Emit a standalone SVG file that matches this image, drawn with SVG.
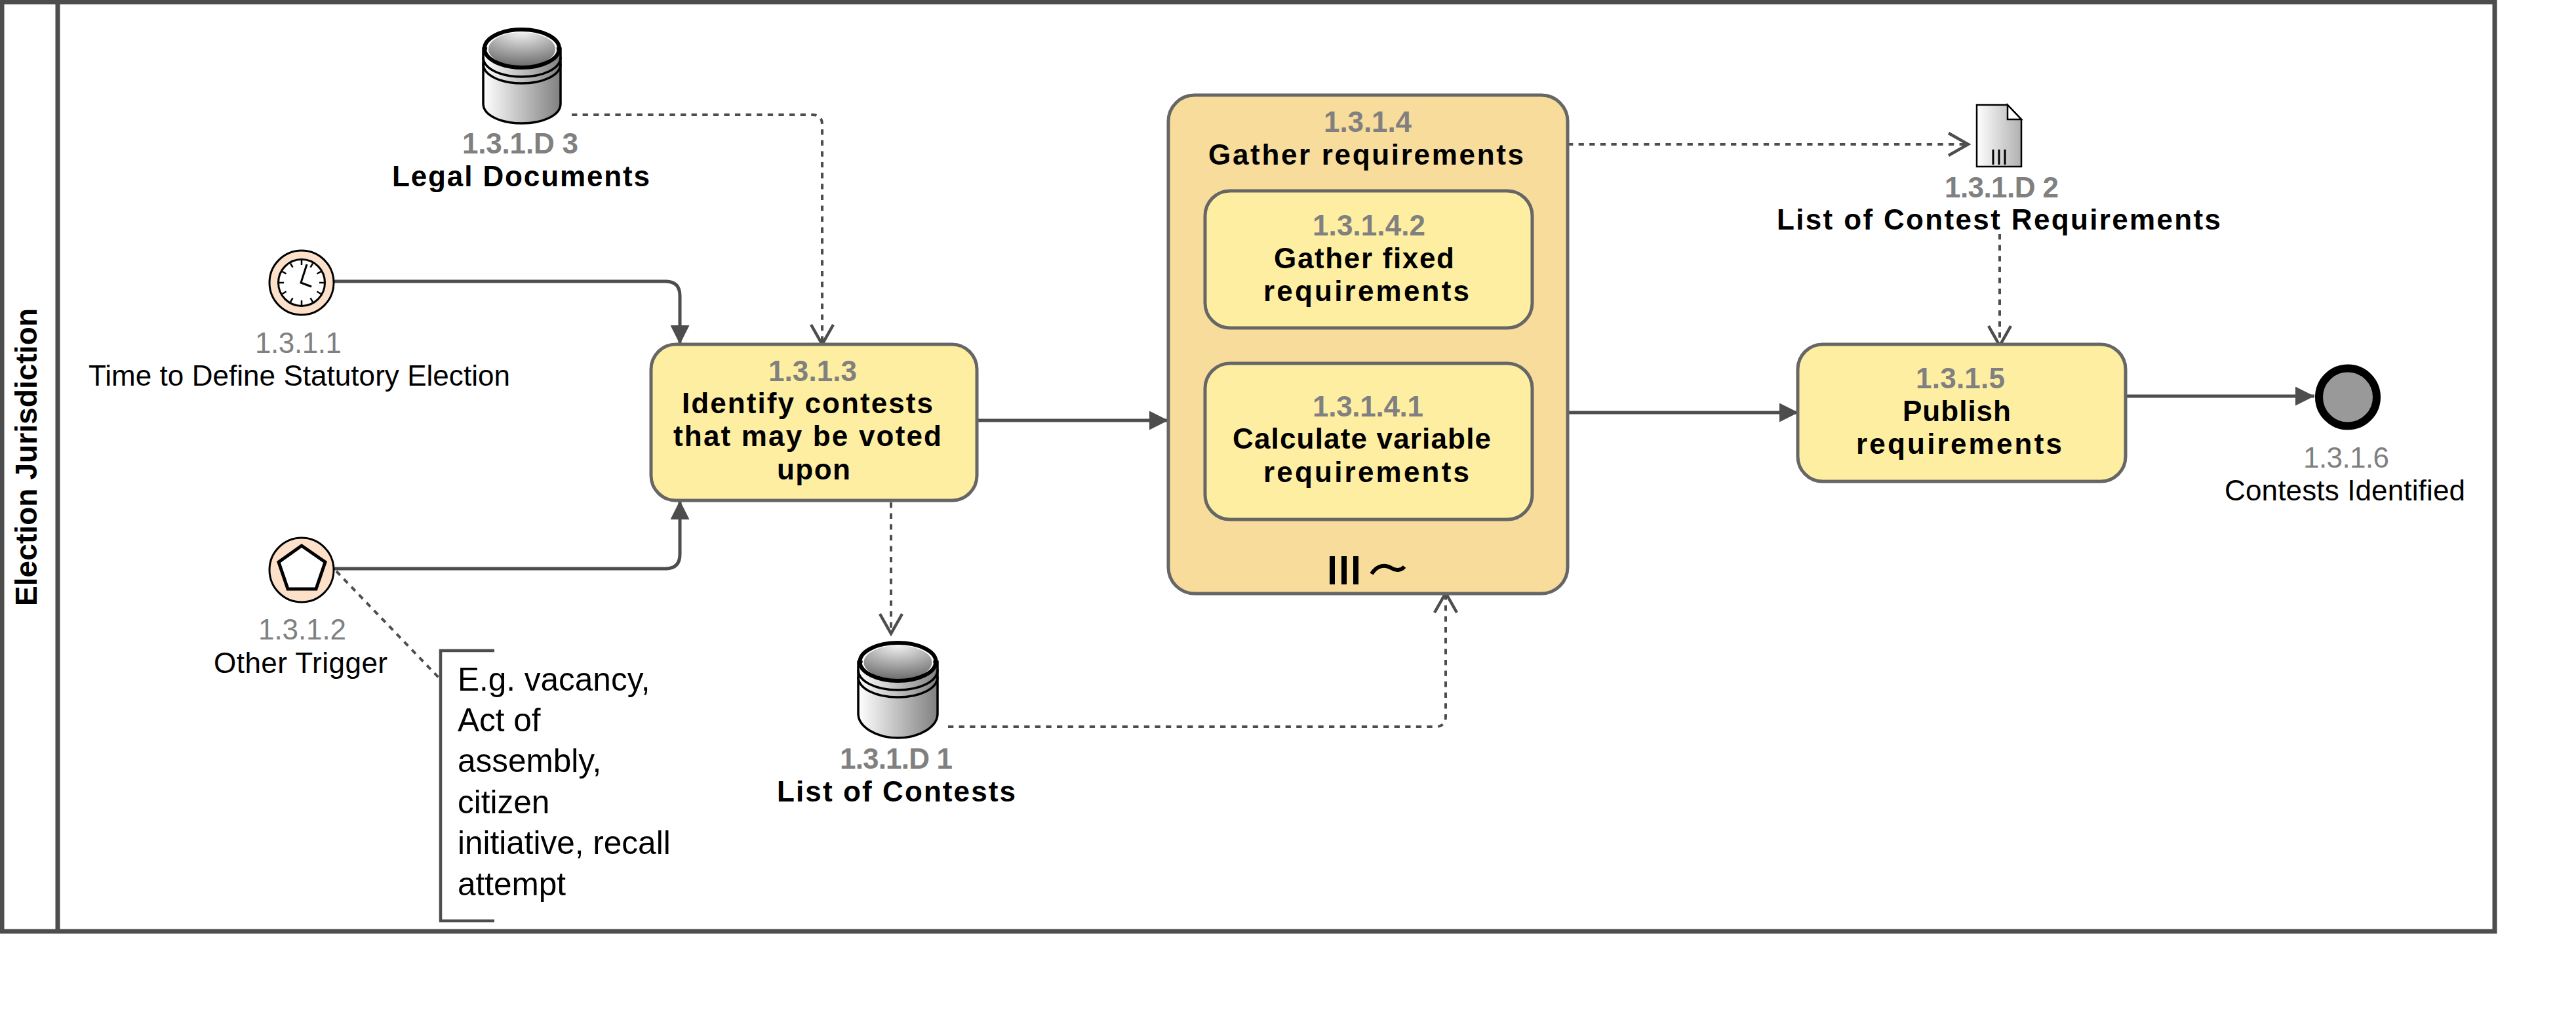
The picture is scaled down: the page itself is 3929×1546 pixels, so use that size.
<svg xmlns="http://www.w3.org/2000/svg" width="3929" height="1546" viewBox="0 0 3929 1546">
<style>
text{font-family:"Liberation Sans",Arial,sans-serif;font-size:44px;fill:#000}
.b{font-weight:700}
.n{fill:#808080}
.nb{fill:#808080;font-weight:700}
.note{font-size:49.5px}
.task{fill:#FEEEA2;stroke:#666;stroke-width:5}
.ev{fill:#FCE0C9;stroke:#000;stroke-width:3}
.flow{fill:none;stroke:#4d4d4d;stroke-width:5;marker-end:url(#solid)}
.assoc{fill:none;stroke:#4d4d4d;stroke-width:4;stroke-dasharray:8.3 8.3;marker-end:url(#open)}
.side{fill:url(#cyl);stroke:#000;stroke-width:3.5}
.band{fill:none;stroke:#000;stroke-width:3.5}
.lid{fill:url(#lid);stroke:#fff;stroke-width:2}
.rim{fill:none;stroke:#000;stroke-width:6}
</style>
<defs>
<linearGradient id="cyl" x1="0" x2="1" y1="0" y2="0"><stop offset="0" stop-color="#fff"/><stop offset="1" stop-color="#808080"/></linearGradient>
<linearGradient id="doc" x1="0" x2="1" y1="0" y2="0"><stop offset="0" stop-color="#fff"/><stop offset="1" stop-color="#b0b0b0"/></linearGradient>
<radialGradient id="lid" cx="0.5" cy="0" r="1"><stop offset="0" stop-color="#f4f4f4"/><stop offset="1" stop-color="#6a6a6a"/></radialGradient>
<marker id="solid" markerUnits="userSpaceOnUse" markerWidth="29" markerHeight="29" refX="29" refY="14.5" orient="auto"><path d="M0,0L29,14.5L0,29Z" fill="#4d4d4d"/></marker>
<marker id="open" markerUnits="userSpaceOnUse" markerWidth="36" markerHeight="38" refX="32" refY="19" orient="auto"><path d="M2,2L32,19L2,36" fill="none" stroke="#4d4d4d" stroke-width="4.5"/></marker>
</defs>
<g id="pool">
<rect x="3" y="3" width="3802" height="1417" fill="#fff" stroke="#4d4d4d" stroke-width="7"/>
<line x1="88" y1="3" x2="88" y2="1420" stroke="#4d4d4d" stroke-width="7"/>
<text class="b" transform="translate(56,924) rotate(-90)" style="font-size:46px" textLength="454">Election Jurisdiction</text>
</g>
<g id="connectors">
<path class="flow" d="M510,429H1015Q1037,429 1037,451V525"/>
<path class="flow" d="M510,867H1015Q1037,867 1037,845V763"/>
<path class="flow" d="M1490,641H1782"/>
<path class="flow" d="M2391,629H2743"/>
<path class="flow" d="M3242,604H3530"/>
<path class="assoc" d="M872,175H1239Q1254,175 1254,190V525"/>
<path class="assoc" d="M1359,766V966"/>
<path class="assoc" d="M1446,1108H2189Q2205,1108 2205,1092V904"/>
<path class="assoc" d="M2391,220H3002"/>
<path class="assoc" d="M3050,357V527"/>
<path d="M513,871L669,1033" fill="none" stroke="#4d4d4d" stroke-width="4" stroke-dasharray="8.3 8.3"/>
</g>
<g id="data-legal">
<path class="side" d="M737,74V158C737,176 764,188 796,188C828,188 855,176 855,158V74Z"/>
<path class="band" d="M737,87C737,105 764,117 796,117C828,117 855,105 855,87M737,97C737,115 764,127 796,127C828,127 855,115 855,97"/>
<ellipse class="lid" cx="796" cy="75" rx="52" ry="27"/>
<ellipse class="rim" cx="796" cy="74" rx="57" ry="29"/>
<text class="nb" x="705" y="234" textLength="177">1.3.1.D 3</text>
<text class="b" x="598" y="284" textLength="393">Legal Documents</text>
</g>
<g id="start-timer">
<circle class="ev" cx="460" cy="431" r="49"/>
<circle cx="460" cy="431" r="35.5" fill="#fff" stroke="#000" stroke-width="3"/>
<path d="M460,397V404M477,401.6L473.5,407.6M489.4,414L483.4,417.5M494,431H487M489.4,448L483.4,444.5M477,460.4L473.5,454.4M460,465V458M443,460.4L446.5,454.4M430.6,448L436.6,444.5M426,431H433M430.6,414L436.6,417.5M443,401.6L446.5,407.6" stroke="#000" stroke-width="2.5"/>
<path d="M468,403L459,431L475,437" fill="none" stroke="#000" stroke-width="3"/>
<text class="n" x="389" y="538" textLength="132">1.3.1.1</text>
<text x="135" y="588" textLength="643">Time to Define Statutory Election</text>
</g>
<g id="start-other">
<circle class="ev" cx="460" cy="869" r="49"/>
<path d="M460,832L496,857L482,898H439L425,857Z" fill="#fff" stroke="#000" stroke-width="5"/>
<text class="n" x="394" y="975" textLength="134">1.3.1.2</text>
<text x="326" y="1026" textLength="265">Other Trigger</text>
</g>
<g id="annotation">
<path d="M754,992H672V1404H754" fill="none" stroke="#4d4d4d" stroke-width="4.5"/>
<text class="note" x="698" y="1053">E.g. vacancy,</text>
<text class="note" x="698" y="1115">Act of</text>
<text class="note" x="698" y="1177">assembly,</text>
<text class="note" x="698" y="1240">citizen</text>
<text class="note" x="698" y="1302">initiative, recall</text>
<text class="note" x="698" y="1365">attempt</text>
</g>
<g id="task-1313">
<rect class="task" x="993" y="525" width="497" height="238" rx="38" ry="38"/>
<text class="nb" x="1172" y="581" textLength="135">1.3.1.3</text>
<text class="b" x="1040" y="630" textLength="383">Identify contests</text>
<text class="b" x="1027" y="680" textLength="409">that may be voted</text>
<text class="b" x="1185" y="731" textLength="112">upon</text>
</g>
<g id="data-contests">
<path class="side" d="M1309,1009V1088C1309,1108 1336,1125 1369.5,1125C1403,1125 1430,1108 1430,1088V1009Z"/>
<path class="band" d="M1309,1021C1309,1039 1336,1052 1369.5,1052C1403,1052 1430,1039 1430,1021M1309,1032C1309,1050 1336,1063 1369.5,1063C1403,1063 1430,1050 1430,1032"/>
<ellipse class="lid" cx="1369.5" cy="1010" rx="53" ry="27"/>
<ellipse class="rim" cx="1369.5" cy="1009" rx="58" ry="29"/>
<text class="nb" x="1281" y="1172" textLength="172">1.3.1.D 1</text>
<text class="b" x="1185" y="1222" textLength="364">List of Contests</text>
</g>
<g id="task-1314">
<rect x="1782" y="145" width="609" height="760" rx="40" ry="40" fill="#F7DC9B" stroke="#666" stroke-width="5"/>
<text class="nb" x="2019" y="201" textLength="134">1.3.1.4</text>
<text class="b" x="1843" y="251" textLength="481">Gather requirements</text>
<path d="M2032,848V891M2050,848V891M2068,848V891" stroke="#000" stroke-width="8"/>
<path d="M2092,875C2100,862 2112,860 2122,866C2130,871 2138,869 2142,864" fill="none" stroke="#000" stroke-width="6"/>
</g>
<g id="task-13142">
<rect class="task" x="1838" y="291" width="499" height="209" rx="38" ry="38"/>
<text class="nb" x="2002" y="359" textLength="172">1.3.1.4.2</text>
<text class="b" x="1943" y="409" textLength="275">Gather fixed</text>
<text class="b" x="1927" y="459" textLength="314">requirements</text>
</g>
<g id="task-13141">
<rect class="task" x="1838" y="554" width="499" height="238" rx="38" ry="38"/>
<text class="nb" x="2002" y="635" textLength="169">1.3.1.4.1</text>
<text class="b" x="1880" y="684" textLength="394">Calculate variable</text>
<text class="b" x="1927" y="735" textLength="314">requirements</text>
</g>
<g id="data-requirements">
<path d="M3015,160H3062L3083,182V254H3015Z" fill="url(#doc)" stroke="#000" stroke-width="2.5"/>
<path d="M3062,160V182H3083Z" fill="#fff" stroke="#000" stroke-width="2.5"/>
<path d="M3040,228V251M3049,228V251M3058,228V251" stroke="#000" stroke-width="3"/>
<text class="nb" x="2966" y="301" textLength="174">1.3.1.D 2</text>
<text class="b" x="2710" y="350" textLength="677">List of Contest Requirements</text>
</g>
<g id="task-1315">
<rect class="task" x="2742" y="525" width="500" height="209" rx="38" ry="38"/>
<text class="nb" x="2922" y="592" textLength="136">1.3.1.5</text>
<text class="b" x="2902" y="642" textLength="165">Publish</text>
<text class="b" x="2831" y="692" textLength="314">requirements</text>
</g>
<g id="end-event">
<circle cx="3581" cy="605.5" r="44" fill="#999" stroke="#000" stroke-width="12"/>
<text class="n" x="3513" y="713" textLength="131">1.3.1.6</text>
<text x="3393" y="763" textLength="367">Contests Identified</text>
</g>
</svg>
